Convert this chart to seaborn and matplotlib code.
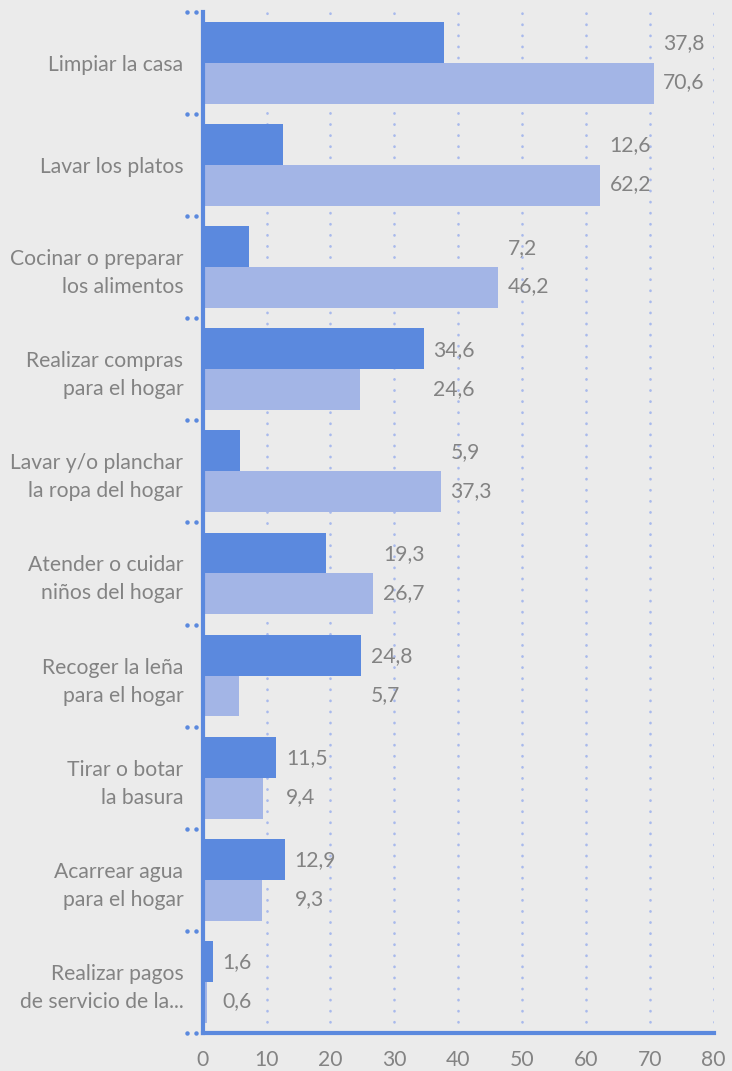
import numpy as np
import pandas as pd
import matplotlib.pyplot as plt
import seaborn as sns

# ── DATA ──────────────────────────────────────────────────────
CATEGORIES = [
    'Limpiar la casa',
    'Lavar los platos',
    'Cocinar o preparar\nlos alimentos',
    'Realizar compras\npara el hogar',
    'Lavar y/o planchar\nla ropa del hogar',
    'Atender o cuidar\nniños del hogar',
    'Recoger la leña\npara el hogar',
    'Tirar o botar\nla basura',
    'Acarrear agua\npara el hogar',
    'Realizar pagos\nde servicio de la...',
]
SERIES = ['Serie 1', 'Serie 2']
VALUES_1 = [37.8, 12.6, 7.2, 34.6, 5.9, 19.3, 24.8, 11.5, 12.9, 1.6]
VALUES_2 = [70.6, 62.2, 46.2, 24.6, 37.3, 26.7, 5.7, 9.4, 9.3, 0.6]
X_TICKS = [0, 10, 20, 30, 40, 50, 60, 70, 80]

# ── STYLE ─────────────────────────────────────────────────────
BG = '#ebebeb'
DARK = '#5b89de'
LIGHT = '#a3b5e6'
GRID = '#a8b9ec'
TEXT = '#838383'
FS = 15.2

sns.set_theme(style='white')
plt.rcParams['font.family'] = ['Lato', 'DejaVu Sans']

df = pd.DataFrame({
    'cat': CATEGORIES * 2,
    'serie': [SERIES[0]] * len(CATEGORIES) + [SERIES[1]] * len(CATEGORIES),
    'val': VALUES_1 + VALUES_2,
})

fig = plt.figure(figsize=(7.32, 10.71), dpi=100, facecolor=BG)
ax = fig.add_axes([0.277, 0.0355, 0.698, 0.9535])
ax.set_facecolor(BG)

sns.barplot(
    data=df, y='cat', x='val', hue='serie', orient='h',
    palette=[DARK, LIGHT], saturation=1, width=0.8,
    linewidth=0, legend=False, ax=ax,
)

ax.set_xlim(0, 80)
ax.set_ylim(len(CATEGORIES) - 0.5, -0.5)
ax.set_xticks(X_TICKS)
ax.set_xticklabels([str(t) for t in X_TICKS], fontsize=FS, color=TEXT)
ax.set_yticklabels(CATEGORIES, fontsize=FS, color=TEXT, linespacing=1.5)
ax.tick_params(axis='both', length=0)
ax.tick_params(axis='y', pad=14)
ax.tick_params(axis='x', pad=12)
ax.set_xlabel('')
ax.set_ylabel('')

# dotted vertical grid
for t in X_TICKS[1:]:
    ax.axvline(t, color=GRID, linewidth=1.9, linestyle=(0, (0.1, 4.1)),
               dash_capstyle='round', zorder=0)

for s in ['top', 'right']:
    ax.spines[s].set_visible(False)
for s in ['left', 'bottom']:
    ax.spines[s].set_color(DARK)
    ax.spines[s].set_linewidth(3)

# small dotted marks at category boundaries
bounds = np.arange(len(CATEGORIES) + 1) - 0.5
tr = ax.get_yaxis_transform()
for b in bounds:
    ax.plot([-0.031, -0.014], [b, b], transform=tr, linestyle='none',
            marker='o', markersize=2.2, color=DARK, clip_on=False)

# value labels: both labels of a group sit past the longer bar
for i in range(len(CATEGORIES)):
    x = max(VALUES_1[i], VALUES_2[i]) + 1.5
    ax.text(x, i - 0.19, f'{VALUES_1[i]:.1f}'.replace('.', ','),
            va='center', ha='left', fontsize=FS, color=TEXT)
    ax.text(x, i + 0.19, f'{VALUES_2[i]:.1f}'.replace('.', ','),
            va='center', ha='left', fontsize=FS, color=TEXT)

plt.savefig('out.png', dpi=100, facecolor=BG)
plt.close()
